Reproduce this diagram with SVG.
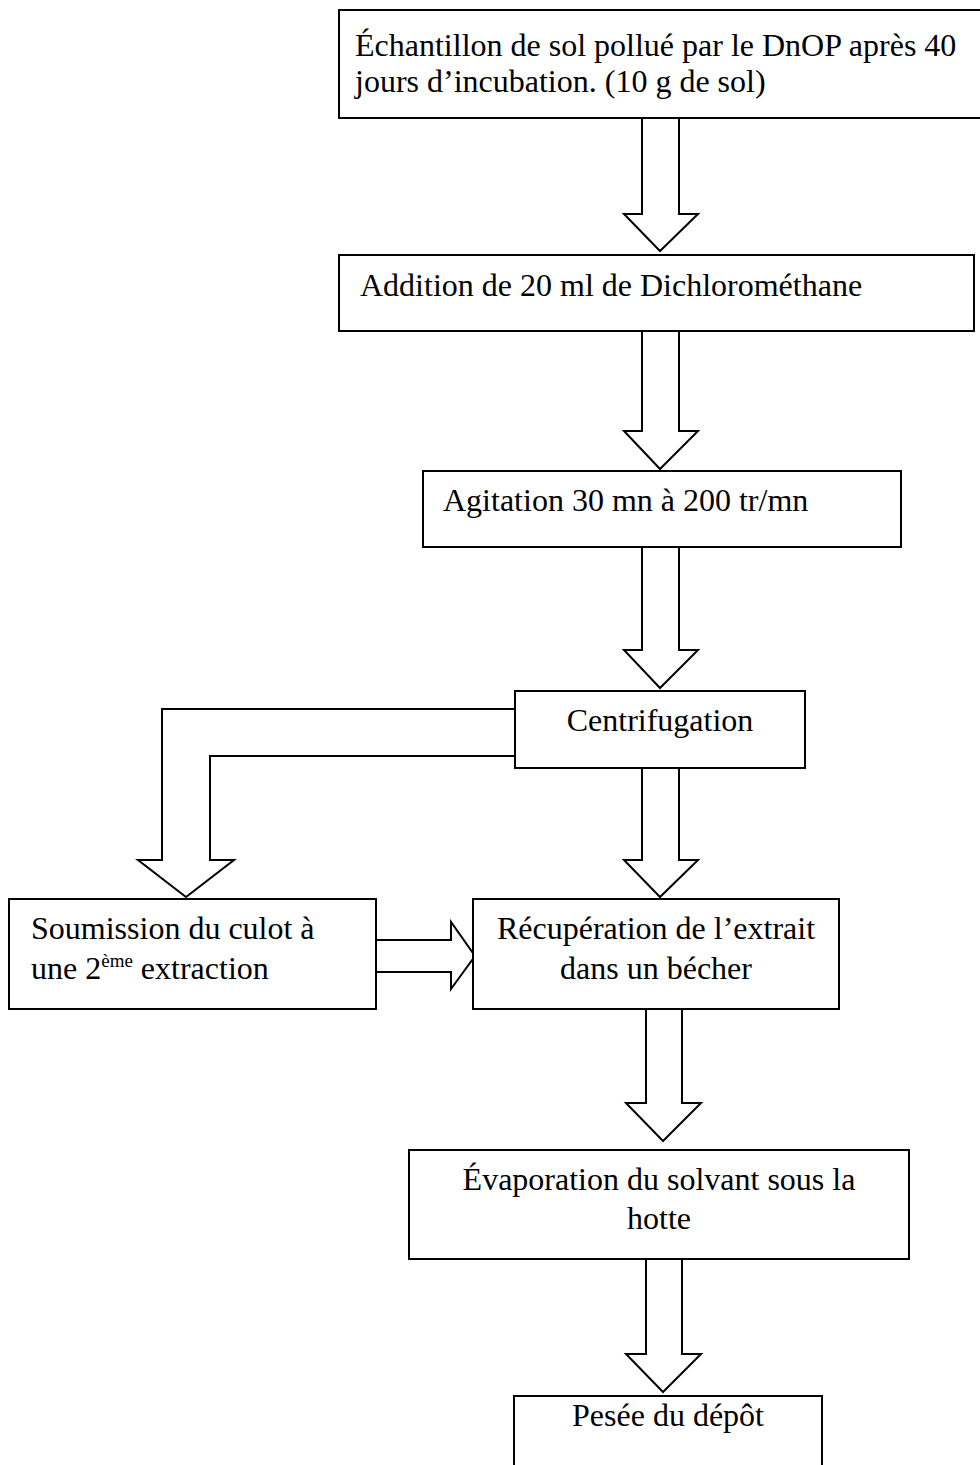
<svg xmlns="http://www.w3.org/2000/svg" width="980" height="1465" viewBox="0 0 980 1465">
<style>
.box{fill:#fff;stroke:#000;stroke-width:2}
.arr{fill:#fff;stroke:#000;stroke-width:2;stroke-linejoin:miter}
text{font-family:"Liberation Serif","Times New Roman",serif;font-size:32px;fill:#000}
.c{text-anchor:middle}
.sup{font-size:19px}
</style>
<rect width="980" height="1465" fill="#fff"/>
<g id="connectors">
<path class="arr" d="M642,118 L642,214 L624,214 L660,251 L698,214 L679,214 L679,118"/>
<path class="arr" d="M642,331 L642,431 L624,431 L660,469 L698,431 L679,431 L679,331"/>
<path class="arr" d="M642,547 L642,650 L624,650 L660,688 L698,650 L679,650 L679,547"/>
<path class="arr" d="M514,709 L162,709 L162,860 L138,860 L186,897 L234,860 L210,860 L210,756 L514,756"/>
<path class="arr" d="M642,768 L642,860 L624,860 L660,897 L698,860 L679,860 L679,768"/>
<path class="arr" d="M376,940 L451,940 L451,922 L475,956 L451,989 L451,972 L376,972"/>
<path class="arr" d="M646,1009 L646,1103 L626,1103 L663,1141 L701,1103 L682,1103 L682,1009"/>
<path class="arr" d="M646,1259 L646,1354 L626,1354 L663,1392 L701,1354 L682,1354 L682,1259"/>
</g>
<g id="n1">
<rect class="box" x="339" y="10" width="660" height="108"/>
<text x="355" y="56">Échantillon de sol pollué par le DnOP après 40</text>
<text x="355" y="92">jours d’incubation. (10 g de sol)</text>
</g>
<g id="n2">
<rect class="box" x="339" y="255" width="635" height="76"/>
<text x="360" y="296">Addition de 20 ml de Dichlorométhane</text>
</g>
<g id="n3">
<rect class="box" x="423" y="471" width="478" height="76"/>
<text x="443" y="511">Agitation 30 mn à 200 tr/mn</text>
</g>
<g id="n4">
<rect class="box" x="515" y="691" width="290" height="77"/>
<text class="c" x="660" y="731">Centrifugation</text>
</g>
<g id="n5">
<rect class="box" x="9" y="899" width="367" height="110"/>
<text x="31" y="939">Soumission du culot à</text>
<text x="31" y="979">une 2<tspan class="sup" dy="-12">ème</tspan><tspan dy="12"> extraction</tspan></text>
</g>
<g id="n6">
<rect class="box" x="473" y="899" width="366" height="110"/>
<text class="c" x="656" y="939">Récupération de l’extrait</text>
<text class="c" x="656" y="979">dans un bécher</text>
</g>
<g id="n7">
<rect class="box" x="409" y="1150" width="500" height="109"/>
<text class="c" x="659" y="1190">Évaporation du solvant sous la</text>
<text class="c" x="659" y="1229">hotte</text>
</g>
<g id="n8">
<rect class="box" x="514" y="1396" width="308" height="90"/>
<text class="c" x="668" y="1426">Pesée du dépôt</text>
</g>
</svg>
